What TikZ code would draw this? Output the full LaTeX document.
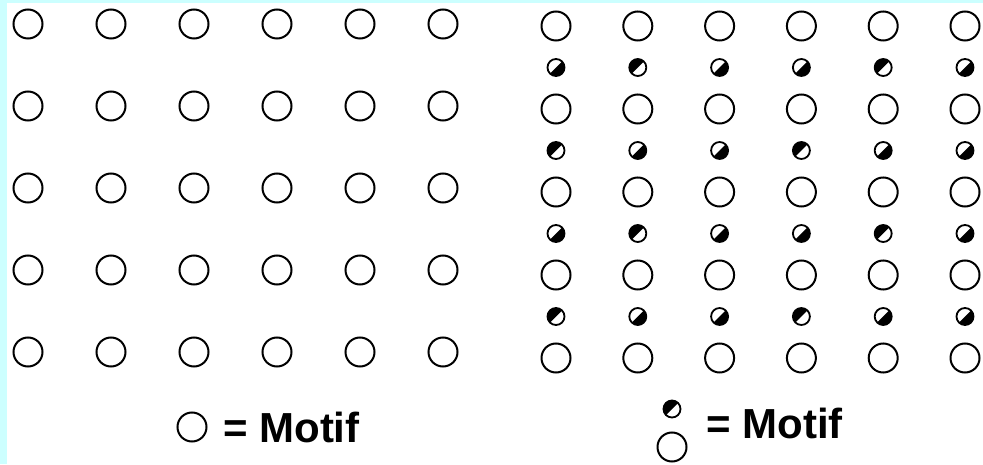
\documentclass[tikz,border=0pt]{standalone}
\usepackage{fontspec}
\setmainfont{Liberation Sans}
\definecolor{edgecyan}{HTML}{CCFFFF}
\tikzset{
  bigring/.style={circle, draw, line width=2pt, minimum size=29pt, inner sep=0pt},
  smallring/.style={circle, draw, line width=1.8pt, minimum size=17pt, inner sep=0pt},
  ul/.style={path picture={\fill (path picture bounding box.north west) -- (path picture bounding box.north east) -- (path picture bounding box.south west) -- cycle;}},
  lr/.style={path picture={\fill (path picture bounding box.south east) -- (path picture bounding box.north east) -- (path picture bounding box.south west) -- cycle;}},
  uld/.style={ul, append after command={\pgfextra{\fill[white] ($(\tikzlastnode.center)+(-4.5pt,3.5pt)$) circle (1.5pt);}}},
  lrd/.style={lr, append after command={\pgfextra{\fill[white] ($(\tikzlastnode.center)+(4.5pt,-3.5pt)$) circle (1.5pt);}}},
  motiftext/.style={font=\fontsize{42}{42}\selectfont\bfseries, inner sep=0pt}
}
\usetikzlibrary{calc}
\begin{document}
\begin{tikzpicture}[x=1pt, y=1pt]
            \useasboundingbox (0,0) rectangle (983,464);
            \fill[edgecyan] (0,0) rectangle (983,464);
            \fill[white] (7,0) rectangle (983,460.5);
            % Left lattice
            \foreach \r in {0,...,4}
              \foreach \c in {0,...,5}
                \node[bigring] (L-\r-\c) at ({28+83*\c},{440-82*\r}) {};
            % Right lattice
            \foreach \r in {0,...,4}
              \foreach \c in {0,...,5}
                \node[bigring] (R-\r-\c) at ({556+81.8*\c},{438-83*\r}) {};
            % Half-filled atoms between the rows
            \foreach \pat [count=\k from 0] in {lrd,ul,lr,lr,ul,lrd, uld,lr,lr,ul,lrd,lr, lrd,uld,lr,lrd,uld,lr, uld,lr,lrd,uld,lr,lr} {
              \pgfmathtruncatemacro\r{div(\k,6)}
              \pgfmathtruncatemacro\c{mod(\k,6)}
              \node[smallring,\pat] (S-\r-\c) at ({556+81.8*\c},{396.5-83*\r}) {};
            }
            % Legends
            \node[bigring] (legL) at (192,37) {};
            \node[motiftext, anchor=base west] (motifL) at (223,22) {= Motif};
            \node[smallring,uld] (legS) at (672,55) {};
            \node[bigring] (legB) at (672,17) {};
            \node[motiftext, anchor=base west] (motifR) at (706,26) {= Motif};
        \end{tikzpicture}
\end{document}
